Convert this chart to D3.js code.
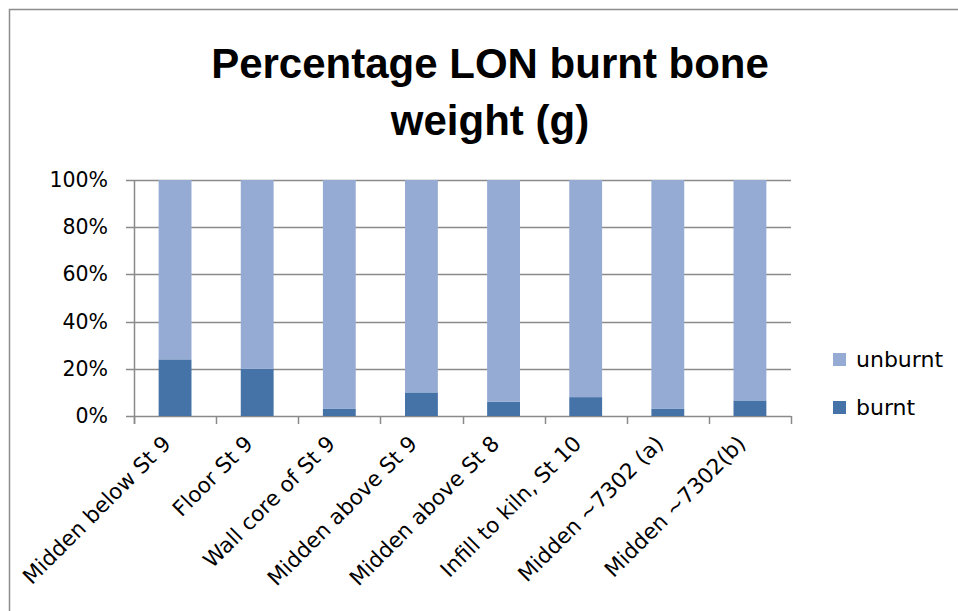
<!DOCTYPE html>
<html>
<head>
<meta charset="utf-8">
<script src="https://cdn.jsdelivr.net/npm/d3@7"></script>
<style>
  body { margin: 0; background: #fff; }
  svg { display: block; }
</style>
</head>
<body>
<div id="chart"></div>
<script>
// --- data ---
const categories = [
  "Midden below St 9", "Floor St 9", "Wall core of St 9", "Midden above St 9",
  "Midden above St 8", "Infill to kiln, St 10", "Midden ~7302 (a)", "Midden ~7302(b)"
];
const burnt   = [24, 20, 3, 10, 6, 8, 3, 6.6];
const unburnt = [76, 80, 97, 90, 94, 92, 97, 93.4];
const seriesNames = ["burnt", "unburnt"];
const yTicks = [0, 20, 40, 60, 80, 100];

const COLORS = { burnt: "#4572a7", unburnt: "#95abd3" };

const W = 958, H = 611;
const margin = { top: 180, left: 134, right: 167, bottom: 195 };
const width = W - margin.left - margin.right,
      height = H - margin.top - margin.bottom;

const svg = d3.select("#chart").append("svg")
  .attr("width", W).attr("height", H);

// outer chart border (cropped on right/bottom like the reference)
svg.append("rect")
  .attr("x", 9.5).attr("y", 9.5)
  .attr("width", W + 20).attr("height", H + 20)
  .attr("fill", "none").attr("stroke", "#8c8c8c").attr("stroke-width", 1.5);

// title
svg.append("text")
  .attr("x", 490).attr("text-anchor", "middle")
  .style("font-family", "'Liberation Sans', Arial, sans-serif")
  .style("font-weight", "bold").style("font-size", "42px")
  .selectAll("tspan")
  .data(["Percentage LON burnt bone", "weight (g)"])
  .enter().append("tspan")
  .attr("x", 490)
  .attr("y", (d, i) => 78 + i * 57)
  .text(d => d);

const g = svg.append("g").attr("transform", `translate(${margin.left},${margin.top})`);

const x = d3.scaleBand().domain(categories).range([0, width]).paddingInner(0.6).paddingOuter(0.3);
const y = d3.scaleLinear().domain([0, 100]).range([height, 0]);

// gridlines
g.append("g").selectAll("line")
  .data(yTicks).enter().append("line")
  .attr("x1", -8).attr("x2", width)
  .attr("y1", d => Math.round(y(d)) + 0.5).attr("y2", d => Math.round(y(d)) + 0.5)
  .attr("stroke", "#8a8a8a").attr("stroke-width", 1.5);

// stacked bars
const rows = categories.map((c, i) => ({ cat: c, burnt: burnt[i], unburnt: unburnt[i] }));
const stack = d3.stack().keys(seriesNames)(rows);

g.selectAll("g.series")
  .data(stack).enter().append("g")
  .attr("class", "series")
  .attr("fill", d => COLORS[d.key])
  .selectAll("rect")
  .data(d => d).enter().append("rect")
  .attr("x", d => x(d.data.cat))
  .attr("width", x.bandwidth())
  .attr("y", d => y(d[1]))
  .attr("height", d => y(d[0]) - y(d[1]));

// y axis line
g.append("line")
  .attr("x1", 0.5).attr("x2", 0.5).attr("y1", 0).attr("y2", height + 8)
  .attr("stroke", "#8a8a8a").attr("stroke-width", 1.5);

// x axis tick marks at category boundaries
const step = x.step();
const bounds = d3.range(categories.length + 1).map(i => i * step);
g.append("g").selectAll("line")
  .data(bounds).enter().append("line")
  .attr("x1", d => Math.round(d) + 0.5).attr("x2", d => Math.round(d) + 0.5)
  .attr("y1", height).attr("y2", height + 8)
  .attr("stroke", "#8a8a8a").attr("stroke-width", 1.5);

// y tick labels
g.append("g").selectAll("text")
  .data(yTicks).enter().append("text")
  .attr("x", -26).attr("y", d => y(d) + 7)
  .attr("text-anchor", "end")
  .style("font-family", "'DejaVu Sans', sans-serif").style("font-size", "20.5px")
  .text(d => d + "%");

// category labels rotated -45deg
g.append("g").selectAll("text")
  .data(categories).enter().append("text")
  .attr("text-anchor", "end")
  .attr("transform", d => `translate(${x(d) + x.bandwidth() / 2 - 3},${height + 29}) rotate(-45)`)
  .style("font-family", "'DejaVu Sans', sans-serif").style("font-size", "21.5px")
  .text(d => d);

// legend
const legend = svg.append("g").attr("transform", "translate(833,0)");
const legendItems = [{ key: "unburnt", y: 353 }, { key: "burnt", y: 401 }];
legend.selectAll("rect")
  .data(legendItems).enter().append("rect")
  .attr("x", 0).attr("y", d => d.y).attr("width", 13).attr("height", 13)
  .attr("fill", d => COLORS[d.key]);
legend.selectAll("text")
  .data(legendItems).enter().append("text")
  .attr("x", 23).attr("y", d => d.y + 14)
  .style("font-family", "'DejaVu Sans', sans-serif").style("font-size", "22px")
  .text(d => d.key);
</script>
</body>
</html>
